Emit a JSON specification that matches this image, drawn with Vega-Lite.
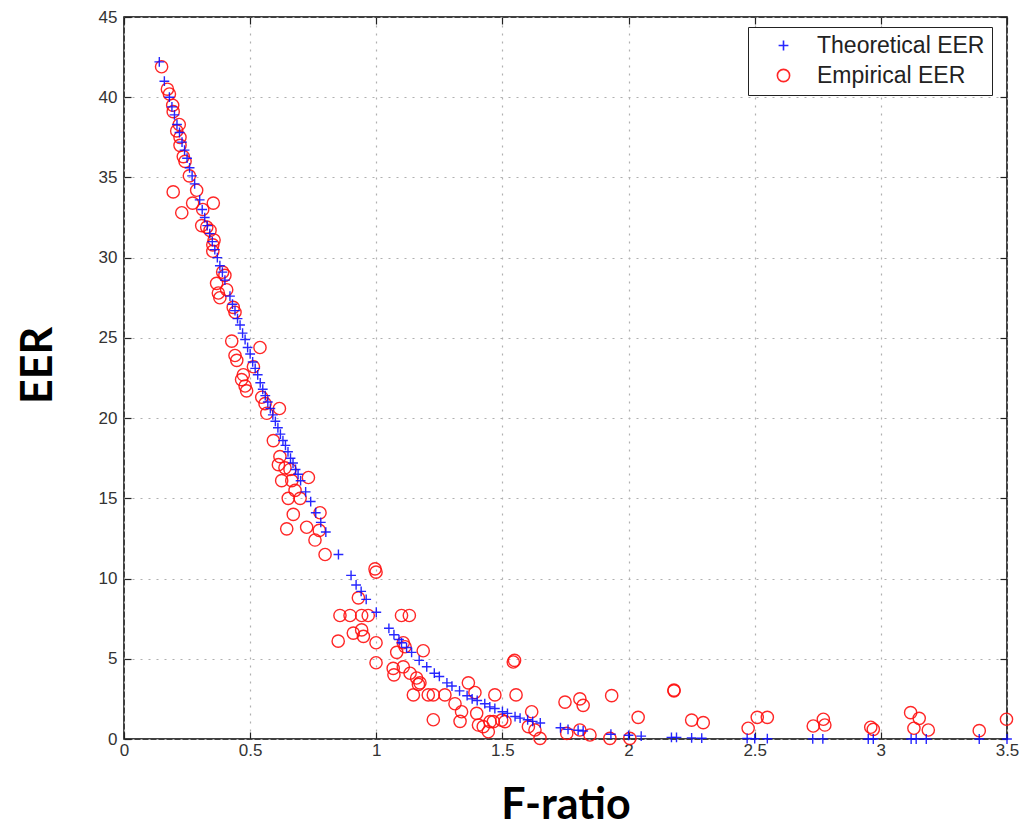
{
  "$schema": "https://vega.github.io/schema/vega-lite/v6.json",
  "width": 883,
  "height": 722,
  "autosize": {"type": "none"},
  "padding": {"left": 124, "top": 17, "right": 20, "bottom": 89},
  "background": "white",
  "config": {
    "view": {"stroke": "black", "strokeWidth": 1.5},
    "axis": {
      "labelFont": "Liberation Sans",
      "labelFontSize": 17,
      "labelColor": "#333333",
      "labelFlush": false,
      "labelOverlap": false,
      "tickColor": "#222222",
      "tickSize": -7,
      "tickWidth": 1.2,
      "domain": false,
      "gridColor": "#b0b0b0",
      "gridDash": [2, 6],
      "gridWidth": 1.2,
      "titleFont": "Lato",
      "titleFontWeight": "bold",
      "titleFontSize": 43,
      "titleColor": "black"
    },
    "legend": {
      "labelFont": "Liberation Sans",
      "labelFontSize": 23,
      "labelLimit": 400,
      "labelColor": "#222222",
      "strokeColor": "#222222",
      "fillColor": "white",
      "padding": 7,
      "symbolOffset": 17,
      "labelOffset": 22,
      "rowPadding": 6,
      "symbolSize": 150,
      "symbolStrokeWidth": 1.6
    }
  },
  "data": {
    "values": [
      {"F": 0.14, "EER": 42.2, "s": "Theoretical EER"},
      {"F": 0.16, "EER": 41.0, "s": "Theoretical EER"},
      {"F": 0.18, "EER": 40.0, "s": "Theoretical EER"},
      {"F": 0.19, "EER": 39.4, "s": "Theoretical EER"},
      {"F": 0.20, "EER": 38.9, "s": "Theoretical EER"},
      {"F": 0.21, "EER": 38.3, "s": "Theoretical EER"},
      {"F": 0.22, "EER": 37.8, "s": "Theoretical EER"},
      {"F": 0.23, "EER": 37.2, "s": "Theoretical EER"},
      {"F": 0.24, "EER": 36.7, "s": "Theoretical EER"},
      {"F": 0.25, "EER": 36.2, "s": "Theoretical EER"},
      {"F": 0.26, "EER": 35.6, "s": "Theoretical EER"},
      {"F": 0.27, "EER": 35.1, "s": "Theoretical EER"},
      {"F": 0.28, "EER": 34.6, "s": "Theoretical EER"},
      {"F": 0.30, "EER": 33.6, "s": "Theoretical EER"},
      {"F": 0.31, "EER": 33.0, "s": "Theoretical EER"},
      {"F": 0.32, "EER": 32.5, "s": "Theoretical EER"},
      {"F": 0.33, "EER": 32.0, "s": "Theoretical EER"},
      {"F": 0.34, "EER": 31.5, "s": "Theoretical EER"},
      {"F": 0.35, "EER": 31.0, "s": "Theoretical EER"},
      {"F": 0.36, "EER": 30.5, "s": "Theoretical EER"},
      {"F": 0.37, "EER": 30.0, "s": "Theoretical EER"},
      {"F": 0.38, "EER": 29.5, "s": "Theoretical EER"},
      {"F": 0.39, "EER": 29.1, "s": "Theoretical EER"},
      {"F": 0.40, "EER": 28.6, "s": "Theoretical EER"},
      {"F": 0.42, "EER": 27.6, "s": "Theoretical EER"},
      {"F": 0.43, "EER": 27.1, "s": "Theoretical EER"},
      {"F": 0.44, "EER": 26.7, "s": "Theoretical EER"},
      {"F": 0.45, "EER": 26.2, "s": "Theoretical EER"},
      {"F": 0.46, "EER": 25.8, "s": "Theoretical EER"},
      {"F": 0.47, "EER": 25.3, "s": "Theoretical EER"},
      {"F": 0.48, "EER": 24.9, "s": "Theoretical EER"},
      {"F": 0.49, "EER": 24.4, "s": "Theoretical EER"},
      {"F": 0.50, "EER": 24.0, "s": "Theoretical EER"},
      {"F": 0.51, "EER": 23.5, "s": "Theoretical EER"},
      {"F": 0.52, "EER": 23.1, "s": "Theoretical EER"},
      {"F": 0.53, "EER": 22.7, "s": "Theoretical EER"},
      {"F": 0.54, "EER": 22.2, "s": "Theoretical EER"},
      {"F": 0.55, "EER": 21.8, "s": "Theoretical EER"},
      {"F": 0.56, "EER": 21.4, "s": "Theoretical EER"},
      {"F": 0.57, "EER": 21.0, "s": "Theoretical EER"},
      {"F": 0.58, "EER": 20.6, "s": "Theoretical EER"},
      {"F": 0.59, "EER": 20.2, "s": "Theoretical EER"},
      {"F": 0.60, "EER": 19.8, "s": "Theoretical EER"},
      {"F": 0.61, "EER": 19.4, "s": "Theoretical EER"},
      {"F": 0.62, "EER": 19.0, "s": "Theoretical EER"},
      {"F": 0.63, "EER": 18.6, "s": "Theoretical EER"},
      {"F": 0.64, "EER": 18.3, "s": "Theoretical EER"},
      {"F": 0.65, "EER": 17.9, "s": "Theoretical EER"},
      {"F": 0.66, "EER": 17.5, "s": "Theoretical EER"},
      {"F": 0.67, "EER": 17.2, "s": "Theoretical EER"},
      {"F": 0.68, "EER": 16.8, "s": "Theoretical EER"},
      {"F": 0.69, "EER": 16.5, "s": "Theoretical EER"},
      {"F": 0.70, "EER": 16.1, "s": "Theoretical EER"},
      {"F": 0.72, "EER": 15.4, "s": "Theoretical EER"},
      {"F": 0.74, "EER": 14.8, "s": "Theoretical EER"},
      {"F": 0.76, "EER": 14.1, "s": "Theoretical EER"},
      {"F": 0.78, "EER": 13.5, "s": "Theoretical EER"},
      {"F": 0.80, "EER": 12.9, "s": "Theoretical EER"},
      {"F": 0.85, "EER": 11.5, "s": "Theoretical EER"},
      {"F": 0.90, "EER": 10.2, "s": "Theoretical EER"},
      {"F": 0.92, "EER": 9.6, "s": "Theoretical EER"},
      {"F": 0.94, "EER": 9.2, "s": "Theoretical EER"},
      {"F": 0.96, "EER": 8.7, "s": "Theoretical EER"},
      {"F": 1.00, "EER": 7.9, "s": "Theoretical EER"},
      {"F": 1.05, "EER": 6.9, "s": "Theoretical EER"},
      {"F": 1.07, "EER": 6.5, "s": "Theoretical EER"},
      {"F": 1.09, "EER": 6.2, "s": "Theoretical EER"},
      {"F": 1.10, "EER": 6.0, "s": "Theoretical EER"},
      {"F": 1.12, "EER": 5.7, "s": "Theoretical EER"},
      {"F": 1.14, "EER": 5.4, "s": "Theoretical EER"},
      {"F": 1.17, "EER": 4.9, "s": "Theoretical EER"},
      {"F": 1.20, "EER": 4.5, "s": "Theoretical EER"},
      {"F": 1.23, "EER": 4.1, "s": "Theoretical EER"},
      {"F": 1.25, "EER": 3.9, "s": "Theoretical EER"},
      {"F": 1.28, "EER": 3.5, "s": "Theoretical EER"},
      {"F": 1.30, "EER": 3.3, "s": "Theoretical EER"},
      {"F": 1.33, "EER": 3.0, "s": "Theoretical EER"},
      {"F": 1.36, "EER": 2.7, "s": "Theoretical EER"},
      {"F": 1.38, "EER": 2.5, "s": "Theoretical EER"},
      {"F": 1.40, "EER": 2.4, "s": "Theoretical EER"},
      {"F": 1.43, "EER": 2.2, "s": "Theoretical EER"},
      {"F": 1.45, "EER": 2.0, "s": "Theoretical EER"},
      {"F": 1.47, "EER": 1.9, "s": "Theoretical EER"},
      {"F": 1.50, "EER": 1.7, "s": "Theoretical EER"},
      {"F": 1.52, "EER": 1.6, "s": "Theoretical EER"},
      {"F": 1.55, "EER": 1.4, "s": "Theoretical EER"},
      {"F": 1.57, "EER": 1.3, "s": "Theoretical EER"},
      {"F": 1.60, "EER": 1.2, "s": "Theoretical EER"},
      {"F": 1.62, "EER": 1.1, "s": "Theoretical EER"},
      {"F": 1.65, "EER": 1.0, "s": "Theoretical EER"},
      {"F": 1.73, "EER": 0.7, "s": "Theoretical EER"},
      {"F": 1.76, "EER": 0.6, "s": "Theoretical EER"},
      {"F": 1.80, "EER": 0.55, "s": "Theoretical EER"},
      {"F": 1.82, "EER": 0.5, "s": "Theoretical EER"},
      {"F": 1.93, "EER": 0.3, "s": "Theoretical EER"},
      {"F": 2.00, "EER": 0.23, "s": "Theoretical EER"},
      {"F": 2.05, "EER": 0.18, "s": "Theoretical EER"},
      {"F": 2.17, "EER": 0.1, "s": "Theoretical EER"},
      {"F": 2.19, "EER": 0.1, "s": "Theoretical EER"},
      {"F": 2.25, "EER": 0.07, "s": "Theoretical EER"},
      {"F": 2.29, "EER": 0.05, "s": "Theoretical EER"},
      {"F": 2.47, "EER": 0.03, "s": "Theoretical EER"},
      {"F": 2.50, "EER": 0.02, "s": "Theoretical EER"},
      {"F": 2.55, "EER": 0.02, "s": "Theoretical EER"},
      {"F": 2.73, "EER": 0.01, "s": "Theoretical EER"},
      {"F": 2.77, "EER": 0.01, "s": "Theoretical EER"},
      {"F": 2.95, "EER": 0, "s": "Theoretical EER"},
      {"F": 2.97, "EER": 0, "s": "Theoretical EER"},
      {"F": 3.12, "EER": 0, "s": "Theoretical EER"},
      {"F": 3.14, "EER": 0, "s": "Theoretical EER"},
      {"F": 3.18, "EER": 0, "s": "Theoretical EER"},
      {"F": 3.39, "EER": 0, "s": "Theoretical EER"},
      {"F": 3.50, "EER": 0, "s": "Theoretical EER"},
      {"F": 0.149, "EER": 41.9, "s": "Empirical EER"},
      {"F": 0.172, "EER": 40.5, "s": "Empirical EER"},
      {"F": 0.18, "EER": 40.2, "s": "Empirical EER"},
      {"F": 0.193, "EER": 39.5, "s": "Empirical EER"},
      {"F": 0.195, "EER": 39.1, "s": "Empirical EER"},
      {"F": 0.219, "EER": 38.3, "s": "Empirical EER"},
      {"F": 0.209, "EER": 37.9, "s": "Empirical EER"},
      {"F": 0.222, "EER": 37.5, "s": "Empirical EER"},
      {"F": 0.222, "EER": 37.0, "s": "Empirical EER"},
      {"F": 0.235, "EER": 36.3, "s": "Empirical EER"},
      {"F": 0.242, "EER": 36.0, "s": "Empirical EER"},
      {"F": 0.259, "EER": 35.1, "s": "Empirical EER"},
      {"F": 0.195, "EER": 34.1, "s": "Empirical EER"},
      {"F": 0.288, "EER": 34.2, "s": "Empirical EER"},
      {"F": 0.272, "EER": 33.4, "s": "Empirical EER"},
      {"F": 0.229, "EER": 32.8, "s": "Empirical EER"},
      {"F": 0.312, "EER": 33.0, "s": "Empirical EER"},
      {"F": 0.354, "EER": 33.4, "s": "Empirical EER"},
      {"F": 0.308, "EER": 32.0, "s": "Empirical EER"},
      {"F": 0.328, "EER": 31.9, "s": "Empirical EER"},
      {"F": 0.341, "EER": 31.7, "s": "Empirical EER"},
      {"F": 0.357, "EER": 31.1, "s": "Empirical EER"},
      {"F": 0.352, "EER": 30.8, "s": "Empirical EER"},
      {"F": 0.352, "EER": 30.4, "s": "Empirical EER"},
      {"F": 0.391, "EER": 29.1, "s": "Empirical EER"},
      {"F": 0.400, "EER": 28.9, "s": "Empirical EER"},
      {"F": 0.367, "EER": 28.4, "s": "Empirical EER"},
      {"F": 0.407, "EER": 28.0, "s": "Empirical EER"},
      {"F": 0.374, "EER": 27.8, "s": "Empirical EER"},
      {"F": 0.380, "EER": 27.5, "s": "Empirical EER"},
      {"F": 0.433, "EER": 26.9, "s": "Empirical EER"},
      {"F": 0.44, "EER": 26.6, "s": "Empirical EER"},
      {"F": 0.427, "EER": 24.8, "s": "Empirical EER"},
      {"F": 0.539, "EER": 24.4, "s": "Empirical EER"},
      {"F": 0.44, "EER": 23.9, "s": "Empirical EER"},
      {"F": 0.447, "EER": 23.6, "s": "Empirical EER"},
      {"F": 0.513, "EER": 23.2, "s": "Empirical EER"},
      {"F": 0.473, "EER": 22.7, "s": "Empirical EER"},
      {"F": 0.466, "EER": 22.4, "s": "Empirical EER"},
      {"F": 0.48, "EER": 22.0, "s": "Empirical EER"},
      {"F": 0.486, "EER": 21.7, "s": "Empirical EER"},
      {"F": 0.546, "EER": 21.3, "s": "Empirical EER"},
      {"F": 0.559, "EER": 20.9, "s": "Empirical EER"},
      {"F": 0.616, "EER": 20.6, "s": "Empirical EER"},
      {"F": 0.566, "EER": 20.3, "s": "Empirical EER"},
      {"F": 0.592, "EER": 18.6, "s": "Empirical EER"},
      {"F": 0.618, "EER": 17.6, "s": "Empirical EER"},
      {"F": 0.612, "EER": 17.1, "s": "Empirical EER"},
      {"F": 0.638, "EER": 16.9, "s": "Empirical EER"},
      {"F": 0.658, "EER": 16.8, "s": "Empirical EER"},
      {"F": 0.731, "EER": 16.3, "s": "Empirical EER"},
      {"F": 0.625, "EER": 16.1, "s": "Empirical EER"},
      {"F": 0.665, "EER": 16.1, "s": "Empirical EER"},
      {"F": 0.678, "EER": 15.5, "s": "Empirical EER"},
      {"F": 0.651, "EER": 15.0, "s": "Empirical EER"},
      {"F": 0.698, "EER": 15.0, "s": "Empirical EER"},
      {"F": 0.671, "EER": 14.0, "s": "Empirical EER"},
      {"F": 0.777, "EER": 14.1, "s": "Empirical EER"},
      {"F": 0.645, "EER": 13.1, "s": "Empirical EER"},
      {"F": 0.724, "EER": 13.2, "s": "Empirical EER"},
      {"F": 0.774, "EER": 13.0, "s": "Empirical EER"},
      {"F": 0.757, "EER": 12.4, "s": "Empirical EER"},
      {"F": 0.797, "EER": 11.5, "s": "Empirical EER"},
      {"F": 0.999, "EER": 10.4, "s": "Empirical EER"},
      {"F": 0.995, "EER": 10.6, "s": "Empirical EER"},
      {"F": 0.929, "EER": 8.8, "s": "Empirical EER"},
      {"F": 0.856, "EER": 7.7, "s": "Empirical EER"},
      {"F": 0.896, "EER": 7.7, "s": "Empirical EER"},
      {"F": 0.942, "EER": 7.7, "s": "Empirical EER"},
      {"F": 0.968, "EER": 7.7, "s": "Empirical EER"},
      {"F": 1.10, "EER": 7.7, "s": "Empirical EER"},
      {"F": 1.131, "EER": 7.7, "s": "Empirical EER"},
      {"F": 0.909, "EER": 6.6, "s": "Empirical EER"},
      {"F": 0.942, "EER": 6.8, "s": "Empirical EER"},
      {"F": 0.949, "EER": 6.4, "s": "Empirical EER"},
      {"F": 0.849, "EER": 6.1, "s": "Empirical EER"},
      {"F": 0.999, "EER": 6.0, "s": "Empirical EER"},
      {"F": 1.107, "EER": 6.0, "s": "Empirical EER"},
      {"F": 1.114, "EER": 5.75, "s": "Empirical EER"},
      {"F": 1.081, "EER": 5.4, "s": "Empirical EER"},
      {"F": 1.186, "EER": 5.5, "s": "Empirical EER"},
      {"F": 0.999, "EER": 4.75, "s": "Empirical EER"},
      {"F": 1.067, "EER": 4.4, "s": "Empirical EER"},
      {"F": 1.07, "EER": 4.0, "s": "Empirical EER"},
      {"F": 1.107, "EER": 4.5, "s": "Empirical EER"},
      {"F": 1.134, "EER": 4.1, "s": "Empirical EER"},
      {"F": 1.173, "EER": 3.5, "s": "Empirical EER"},
      {"F": 1.16, "EER": 3.8, "s": "Empirical EER"},
      {"F": 1.167, "EER": 3.4, "s": "Empirical EER"},
      {"F": 1.147, "EER": 2.75, "s": "Empirical EER"},
      {"F": 1.206, "EER": 2.75, "s": "Empirical EER"},
      {"F": 1.226, "EER": 2.75, "s": "Empirical EER"},
      {"F": 1.272, "EER": 2.75, "s": "Empirical EER"},
      {"F": 1.312, "EER": 2.2, "s": "Empirical EER"},
      {"F": 1.338, "EER": 1.7, "s": "Empirical EER"},
      {"F": 1.226, "EER": 1.2, "s": "Empirical EER"},
      {"F": 1.365, "EER": 3.5, "s": "Empirical EER"},
      {"F": 1.391, "EER": 2.9, "s": "Empirical EER"},
      {"F": 1.332, "EER": 1.1, "s": "Empirical EER"},
      {"F": 1.398, "EER": 1.6, "s": "Empirical EER"},
      {"F": 1.405, "EER": 0.87, "s": "Empirical EER"},
      {"F": 1.424, "EER": 0.77, "s": "Empirical EER"},
      {"F": 1.451, "EER": 1.08, "s": "Empirical EER"},
      {"F": 1.47, "EER": 2.75, "s": "Empirical EER"},
      {"F": 1.543, "EER": 4.8, "s": "Empirical EER"},
      {"F": 1.548, "EER": 4.9, "s": "Empirical EER"},
      {"F": 1.554, "EER": 2.75, "s": "Empirical EER"},
      {"F": 1.444, "EER": 0.45, "s": "Empirical EER"},
      {"F": 1.464, "EER": 1.08, "s": "Empirical EER"},
      {"F": 1.497, "EER": 1.18, "s": "Empirical EER"},
      {"F": 1.51, "EER": 1.08, "s": "Empirical EER"},
      {"F": 1.616, "EER": 1.7, "s": "Empirical EER"},
      {"F": 1.603, "EER": 0.77, "s": "Empirical EER"},
      {"F": 1.629, "EER": 0.56, "s": "Empirical EER"},
      {"F": 1.649, "EER": 0.04, "s": "Empirical EER"},
      {"F": 1.748, "EER": 2.3, "s": "Empirical EER"},
      {"F": 1.807, "EER": 2.5, "s": "Empirical EER"},
      {"F": 1.82, "EER": 2.1, "s": "Empirical EER"},
      {"F": 1.933, "EER": 2.7, "s": "Empirical EER"},
      {"F": 2.038, "EER": 1.35, "s": "Empirical EER"},
      {"F": 1.755, "EER": 0.35, "s": "Empirical EER"},
      {"F": 1.807, "EER": 0.56, "s": "Empirical EER"},
      {"F": 1.847, "EER": 0.25, "s": "Empirical EER"},
      {"F": 1.926, "EER": 0.04, "s": "Empirical EER"},
      {"F": 2.005, "EER": 0.04, "s": "Empirical EER"},
      {"F": 2.18, "EER": 3.0, "s": "Empirical EER"},
      {"F": 2.18, "EER": 3.05, "s": "Empirical EER"},
      {"F": 2.25, "EER": 1.18, "s": "Empirical EER"},
      {"F": 2.296, "EER": 1.02, "s": "Empirical EER"},
      {"F": 2.474, "EER": 0.67, "s": "Empirical EER"},
      {"F": 2.51, "EER": 1.35, "s": "Empirical EER"},
      {"F": 2.55, "EER": 1.35, "s": "Empirical EER"},
      {"F": 2.732, "EER": 0.81, "s": "Empirical EER"},
      {"F": 2.772, "EER": 1.23, "s": "Empirical EER"},
      {"F": 2.778, "EER": 0.87, "s": "Empirical EER"},
      {"F": 2.96, "EER": 0.73, "s": "Empirical EER"},
      {"F": 2.97, "EER": 0.6, "s": "Empirical EER"},
      {"F": 3.118, "EER": 1.64, "s": "Empirical EER"},
      {"F": 3.152, "EER": 1.29, "s": "Empirical EER"},
      {"F": 3.131, "EER": 0.67, "s": "Empirical EER"},
      {"F": 3.188, "EER": 0.56, "s": "Empirical EER"},
      {"F": 3.39, "EER": 0.52, "s": "Empirical EER"},
      {"F": 3.498, "EER": 1.23, "s": "Empirical EER"}
    ]
  },
  "layer": [
    {
      "mark": {"type": "point", "filled": false, "size": 150, "strokeWidth": 1.4, "opacity": 0.9},
      "encoding": {
        "x": {
          "field": "F", "type": "quantitative",
          "scale": {"domain": [0, 3.5], "nice": false},
          "axis": {"orient": "bottom", "title": "F-ratio", "values": [0, 0.5, 1, 1.5, 2, 2.5, 3, 3.5], "format": "~g", "labelPadding": 10, "titleY": 66, "titleBaseline": "middle"}
        },
        "y": {
          "field": "EER", "type": "quantitative",
          "scale": {"domain": [0, 45], "nice": false},
          "axis": {"orient": "left", "title": "EER", "values": [0, 5, 10, 15, 20, 25, 30, 35, 40, 45], "labelPadding": 14, "titleX": -86, "titleY": 348, "titleBaseline": "middle", "titleAngle": -90, "titleAlign": "center"}
        },
        "color": {
          "field": "s", "type": "nominal",
          "scale": {"domain": ["Theoretical EER", "Empirical EER"], "range": ["#1010ff", "#ff1010"]},
          "legend": {"title": null, "orient": "none", "legendX": 624, "legendY": 10}
        },
        "shape": {
          "field": "s", "type": "nominal",
          "scale": {"domain": ["Theoretical EER", "Empirical EER"], "range": ["M-0.8,0L0.8,0M0,-0.8L0,0.8", "circle"]},
          "legend": {"title": null, "orient": "none", "legendX": 624, "legendY": 10}
        },
        "order": {"field": "s", "type": "nominal", "sort": "ascending"}
      }
    },
    {
      "mark": {"type": "point", "opacity": 0},
      "encoding": {
        "x": {
          "field": "F", "type": "quantitative",
          "scale": {"domain": [0, 3.5], "nice": false},
          "axis": {"orient": "top", "title": null, "labels": false, "grid": false, "values": [0, 0.5, 1, 1.5, 2, 2.5, 3, 3.5]}
        },
        "y": {
          "field": "EER", "type": "quantitative",
          "scale": {"domain": [0, 45], "nice": false},
          "axis": {"orient": "right", "title": null, "labels": false, "grid": false, "values": [0, 5, 10, 15, 20, 25, 30, 35, 40, 45]}
        }
      }
    }
  ],
  "resolve": {"axis": {"x": "independent", "y": "independent"}}
}
